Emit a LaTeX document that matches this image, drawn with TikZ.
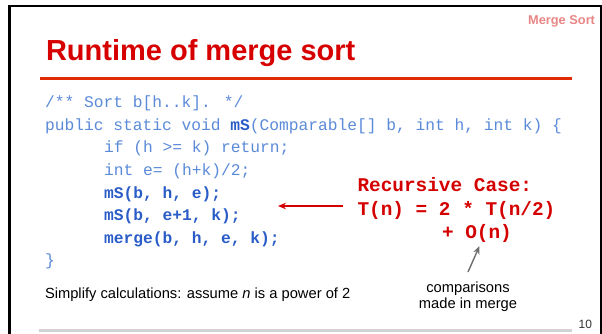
\documentclass[tikz,border=0pt]{standalone}
\usepackage{fontspec}
\setmainfont{Liberation Sans}
\newfontfamily\codefont{Liberation Mono}
\usetikzlibrary{arrows.meta}

\definecolor{titlered}{HTML}{D60000}
\definecolor{rulered}{HTML}{E22A00}
\definecolor{tagpink}{HTML}{E88585}
\definecolor{codeblue}{HTML}{5A8AD8}
\definecolor{codebold}{HTML}{2A5CC8}
\definecolor{casered}{HTML}{D40000}
\definecolor{notegray}{HTML}{6E6E6E}
\definecolor{footgray}{HTML}{D2D2D2}

\begin{document}
\begin{tikzpicture}[x=1pt, y=-1pt,
  every node/.style={inner sep=0pt, outer sep=0pt},
  codeline/.style={anchor=base west, text=codeblue,
    font=\codefont\fontsize{16.25}{18}\selectfont},
  codestrong/.style={codeline, text=codebold,
    font=\codefont\bfseries\fontsize{16.25}{18}\selectfont},
  caseline/.style={anchor=base west, text=casered,
    font=\codefont\bfseries\fontsize{19.4}{22}\selectfont},
  plain/.style={font=\fontsize{14.7}{16}\selectfont, text=black}]
\useasboundingbox (0,0) rectangle (602,334);

% slide frame
\draw[line width=2.5pt] (9.5,334) -- (9.5,6) -- (602,6);
\draw[line width=2pt] (600.5,6) -- (600.5,334);

% header
\node[anchor=base east, text=tagpink, font=\bfseries\fontsize{12.8}{14}\selectfont]
  (tag) at (595,24.5) {Merge Sort};
\node[anchor=base west, text=titlered, font=\bfseries\fontsize{29}{32}\selectfont]
  (title) at (46,60.7) {Runtime of merge sort};
\draw[rulered, line width=3pt] (40,79) -- (572,79);

% code
\node[codeline] (c1) at (45,108) {/** Sort b[h..k]. */};
\node[codeline] (c2) at (45,130.5) {public static void \textbf{\textcolor{codebold}{mS}}(Comparable[] b, int h, int k) \{};
\node[codeline] (c3) at (104,153) {if (h >= k) return;};
\node[codeline] (c4) at (104,175.5) {int e= (h+k)/2;};
\node[codestrong] (c5) at (104,198) {mS(b, h, e);};
\node[codestrong] (c6) at (104,220.5) {mS(b, e+1, k);};
\node[codestrong] (c7) at (104,243) {merge(b, h, e, k);};
\node[codeline] (c8) at (45,265.5) {\}};

% recurrence
\node[caseline] (r1) at (357.5,191.5) {Recursive Case:};
\node[caseline] (r2) at (357.5,215.5) {T(n) = 2 * T(n/2)};
\node[caseline] (r3) at (442,238.5) {+ O(n)};

\coordinate (rtail) at (343,206);
\coordinate (rhead) at (278,206);
\draw[casered, line width=1.4pt, -{Stealth[length=8pt,width=6.5pt]}] (rtail) -- (rhead);

% note on merge cost
\node[plain, align=center, anchor=north] (cmp) at (468,282)
  {comparisons\\made in merge};
\coordinate (gtail) at (468,272);
\coordinate (ghead) at (479.5,246);
\draw[notegray, line width=1.4pt, -{Stealth[length=8pt,width=6.5pt]}] (gtail) -- (ghead);

\node[plain, anchor=base west] (simp) at (45,298)
  {Simplify calculations: assume \textit{n} is a power of 2};

% footer
\draw[footgray, line width=3pt] (39,330) -- (572,330);
\node[anchor=base east, text=black!80, font=\fontsize{12}{13}\selectfont]
  (pg) at (592,328.5) {10};
\end{tikzpicture}
\end{document}
